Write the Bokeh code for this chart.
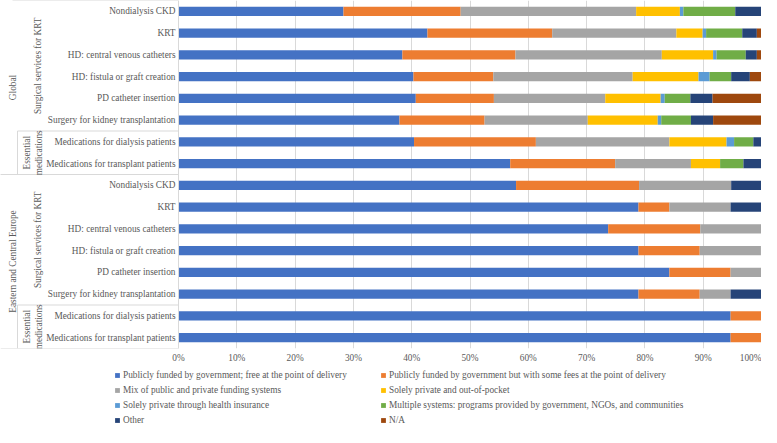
import math
from bokeh.plotting import figure
from bokeh.layouts import column
from bokeh.models import ColumnDataSource, Range1d, FixedTicker, Legend, LegendItem
from bokeh.core.properties import value
from bokeh.embed import file_html
from bokeh.resources import INLINE

# ---------------- data ----------------
regions = ["Global", "Eastern and Central Europe"]
groups = ["Surgical services for KRT", "Essential\nmedications"]
group_sizes = [6, 2]
items = [
    "Nondialysis CKD",
    "KRT",
    "HD: central venous catheters",
    "HD: fistula or graft creation",
    "PD catheter insertion",
    "Surgery for kidney transplantation",
    "Medications for dialysis patients",
    "Medications for transplant patients",
]
row_labels = items + items  # Global rows then Eastern and Central Europe rows (top to bottom)

series_names = [
    "Publicly funded by government; free at the point of delivery",
    "Publicly funded by government but with some fees at the point of delivery",
    "Mix of public and private funding systems",
    "Solely private and out-of-pocket",
    "Solely private through health insurance",
    "Multiple systems: programs provided by government, NGOs, and communities",
    "Other",
    "N/A",
]
public_free = [28.3, 42.7, 38.4, 40.3, 40.7, 37.9, 40.4, 56.9,
               57.9, 78.9, 73.7, 78.9, 84.2, 78.9, 94.7, 94.7]
public_fees = [20.1, 21.4, 19.4, 13.7, 13.4, 14.6, 20.9, 18.0,
               21.1, 5.3, 15.8, 10.5, 10.5, 10.5, 5.3, 5.3]
mix = [30.1, 21.3, 25.1, 23.9, 19.1, 17.7, 22.9, 13.0,
       15.8, 10.5, 10.5, 10.5, 5.3, 5.3, 0.0, 0.0]
private_oop = [7.5, 4.5, 8.8, 11.3, 9.5, 12.0, 9.8, 5.0,
               0.0, 0.0, 0.0, 0.0, 0.0, 0.0, 0.0, 0.0]
private_insurance = [0.6, 0.6, 0.6, 1.9, 0.7, 0.6, 1.3, 0.0,
                     0.0, 0.0, 0.0, 0.0, 0.0, 0.0, 0.0, 0.0]
multiple = [8.9, 6.2, 5.0, 3.7, 4.4, 5.1, 3.3, 4.0,
            0.0, 0.0, 0.0, 0.0, 0.0, 0.0, 0.0, 0.0]
other = [4.5, 2.5, 1.9, 3.2, 3.8, 3.8, 1.4, 3.1,
         5.3, 5.3, 0.0, 0.0, 0.0, 5.3, 0.0, 0.0]
na = [0.0, 0.8, 0.8, 2.0, 8.4, 8.3, 0.0, 0.0,
      0.0, 0.0, 0.0, 0.0, 0.0, 0.0, 0.0, 0.0]

tick_values = [0, 10, 20, 30, 40, 50, 60, 70, 80, 90, 100]
tick_labels = [f"{t}%" for t in tick_values]

colors = ["#4472C4", "#ED7D31", "#A5A5A5", "#FFC000", "#5B9BD5", "#70AD47", "#264478", "#9E480E"]

# ---------------- build ----------------
n = len(row_labels)
keys = ["s%d" % i for i in range(len(series_names))]
cols = [public_free, public_fees, mix, private_oop, private_insurance, multiple, other, na]
src = {k: v for k, v in zip(keys, cols)}
src["y"] = [n - 0.5 - i for i in range(n)]
src["label"] = row_labels
source = ColumnDataSource(src)

FONT = "Liberation Serif"
TXT = "#595959"
LINE = "#D9D9D9"
FS = "9.3px"

W = 761
X0 = -178.0 / (W - 178.0) * 100.0
p = figure(width=W, height=369, x_range=Range1d(X0, 100), y_range=Range1d(0, n),
           output_backend="svg", toolbar_location=None, y_axis_location=None,
           min_border_left=0, min_border_right=0, min_border_top=0, min_border_bottom=21)
p.outline_line_color = None
p.background_fill_color = "white"
p.ygrid.visible = False
p.xgrid.ticker = FixedTicker(ticks=tick_values)
p.xgrid.grid_line_color = LINE
p.xgrid.bounds = (0, 100)

ax = p.xaxis[0]
ax.ticker = FixedTicker(ticks=tick_values)
ax.major_label_overrides = {t: l for t, l in zip(tick_values, tick_labels)}
ax.axis_line_color = None
ax.major_tick_line_color = None
ax.minor_tick_line_color = None
ax.major_tick_out = 0
ax.major_tick_in = 0
ax.minor_tick_out = 0
ax.major_label_text_font = FONT
ax.major_label_text_font_size = FS
ax.major_label_text_color = TXT
ax.major_label_standoff = 4

rs = p.hbar_stack(keys, y="y", height=0.42, color=colors, line_color=None, source=source)

# pixel -> data helper for the label area (frame spans W px)
def px(xp):
    return X0 + xp * (100 - X0) / W

# row labels
p.text(x=px(175), y="y", text="label", source=source, text_align="right", text_baseline="middle",
       text_font=value(FONT), text_font_size=FS, text_color=TXT)

# group / region labels and separators
gx, gy, gt = [], [], []
rx, ry, rt = [], [], []
seg = dict(x0=[], y0=[], x1=[], y1=[])
per_region = sum(group_sizes)
for r, reg in enumerate(regions):
    rtop = n - r * per_region
    rbot = rtop - per_region
    rx.append(px(12)); ry.append((rtop + rbot) / 2); rt.append(reg)
    t = rtop
    for g, (gname, gs) in enumerate(zip(groups, group_sizes)):
        b = t - gs
        gx.append(px(37) if "\n" not in gname else px(32)); gy.append((t + b) / 2); gt.append(gname)
        if g > 0:
            seg["x0"].append(px(17)); seg["y0"].append(t); seg["x1"].append(0); seg["y1"].append(t)
            seg["x0"].append(px(17)); seg["y0"].append(t); seg["x1"].append(px(17)); seg["y1"].append(rbot)
        t = b
    seg["x0"].append(px(0) if r > 0 else px(12)); seg["y0"].append(rtop); seg["x1"].append(0); seg["y1"].append(rtop)
    seg["x0"].append(px(0)); seg["y0"].append(rbot); seg["x1"].append(0); seg["y1"].append(rbot)
seg["x0"].append(0); seg["y0"].append(0); seg["x1"].append(0); seg["y1"].append(n)
p.segment(x0="x0", y0="y0", x1="x1", y1="y1", source=ColumnDataSource(seg), line_color=LINE, line_width=1)

p.text(x=gx, y=gy, text=gt, angle=math.pi / 2, text_align="center", text_baseline="middle",
       text_font=value(FONT), text_font_size=FS, text_color=TXT, text_line_height=1.2)
p.text(x=rx, y=ry, text=rt, angle=math.pi / 2, text_align="center", text_baseline="middle",
       text_font=value(FONT), text_font_size=FS, text_color=TXT)

# ---------------- legend strip ----------------
LH = 58
q = figure(width=W, height=LH, x_range=Range1d(0, W), y_range=Range1d(0, LH),
           output_backend="svg", toolbar_location=None, x_axis_location=None, y_axis_location=None,
           min_border_left=0, min_border_right=0, min_border_top=0, min_border_bottom=0)
q.outline_line_color = None
q.xgrid.visible = False
q.ygrid.visible = False
# zero-length placeholder bars (off-screen) only used as legend swatches
dummy = [q.hbar(y=[-LH], left=[0], right=[0], height=1, fill_color=c, line_color=None) for c in colors]

legend = Legend(items=[LegendItem(label=nm, renderers=[r], index=0) for nm, r in zip(series_names, dummy)],
                location=(114, 1), orientation="horizontal", ncols=2,
                glyph_width=6, glyph_height=6, label_standoff=3, label_width=254, label_height=12,
                spacing=3, padding=0, margin=0, border_line_color=None, background_fill_alpha=0,
                label_text_font=FONT, label_text_font_size=FS, label_text_color=TXT)
q.add_layout(legend, "center")

layout = column(p, q, spacing=0)
open("out.html", "w").write(file_html(layout, INLINE))
